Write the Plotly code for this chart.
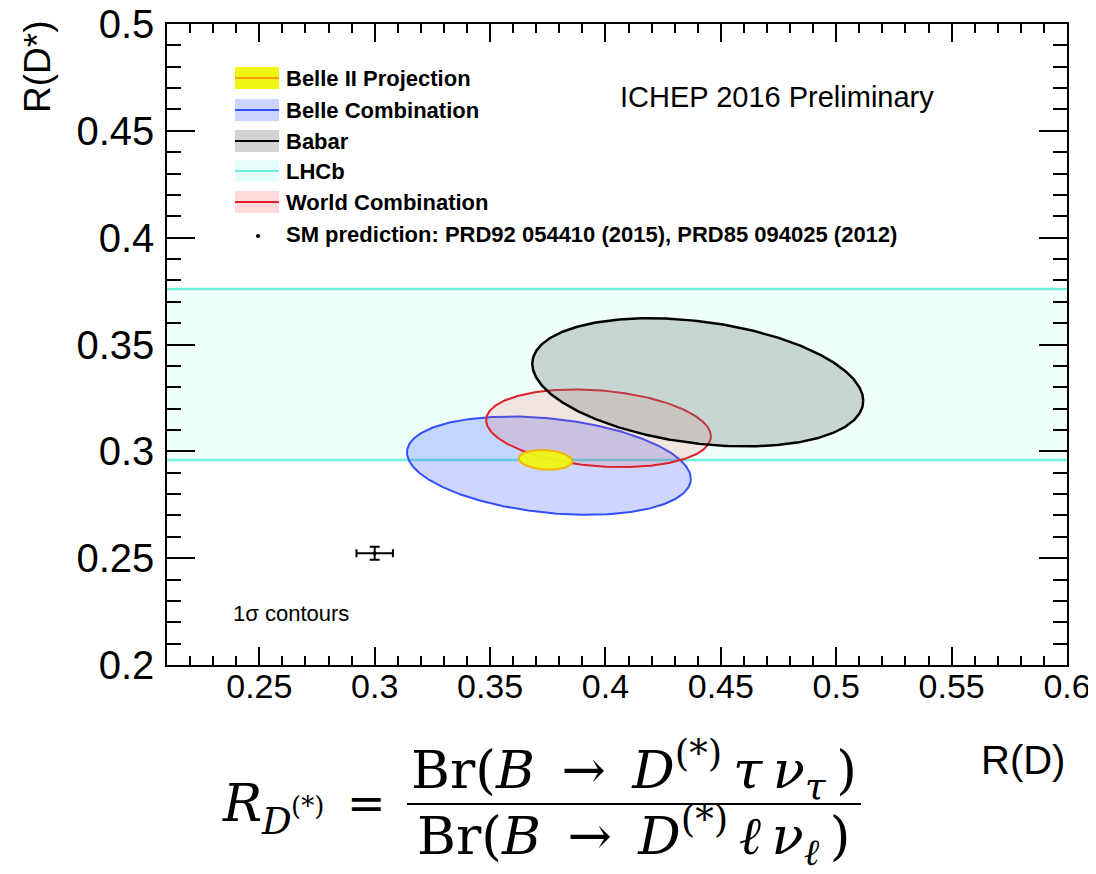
import numpy as np
import plotly.graph_objects as go

# ---------------- data ----------------
experiments = ["Belle Combination", "World Combination", "Babar", "Belle II Projection"]
rd_center = [0.3755, 0.397, 0.440, 0.374]
rd_sigma = [0.0615, 0.0487, 0.0717, 0.0116]
rds_center = [0.2933, 0.3108, 0.3323, 0.2960]
rds_sigma = [0.0230, 0.0182, 0.0300, 0.0046]
rho = [-0.27, -0.21, -0.29, -0.15]

lhcb_rds_center = 0.336
lhcb_rds_sigma = 0.040

sm_rd = [0.300]
sm_rd_err = [0.0079]
sm_rds = [0.2523]
sm_rds_err = [0.0030]

x_tickvals = [0.25, 0.3, 0.35, 0.4, 0.45, 0.5, 0.55, 0.6]
x_ticktext = ["0.25", "0.3", "0.35", "0.4", "0.45", "0.5", "0.55", "0.6"]
y_tickvals = [0.2, 0.25, 0.3, 0.35, 0.4, 0.45, 0.5]
y_ticktext = ["0.2", "0.25", "0.3", "0.35", "0.4", "0.45", "0.5"]

legend_labels = ["Belle II Projection", "Belle Combination", "Babar", "LHCb",
                 "World Combination", "SM prediction: PRD92 054410 (2015), PRD85 094025 (2012)"]

# ---------------- styles ----------------
fill_colors = {
    "Belle Combination": "rgba(51,85,255,0.24)",
    "World Combination": "rgba(255,70,60,0.14)",
    "Babar": "rgba(110,120,120,0.30)",
    "Belle II Projection": "rgba(238,246,18,0.95)",
}
line_colors = {
    "Belle Combination": "#3050ff",
    "World Combination": "#e0202a",
    "Babar": "#000000",
    "Belle II Projection": "#f5b400",
}
line_widths = {
    "Belle Combination": 2,
    "World Combination": 2,
    "Babar": 2.5,
    "Belle II Projection": 2,
}
LHCB_FILL = "#effffb"
LHCB_LINE = "#6ff0da"
SANS = "Liberation Sans"
SERIF = "DejaVu Serif"

# page has an 8px body margin; figure sized to fill the 1096x874 window
OFF = 8
W, H = 1096 - OFF, 874 - OFF
ML, MR, MT, MB = 167 - OFF, 29, 24 - OFF, 209
PW = W - ML - MR
PH = H - MT - MB


def px(xp):
    return (xp - OFF - ML) / PW


def py(yp):
    return (H - MB - (yp - OFF)) / PH


fig = go.Figure()

# ---- ellipses (1 sigma, delta chi2 = 1) ----
t = np.linspace(0, 2 * np.pi, 400)
for name, mx, sx, my, sy, r in zip(experiments, rd_center, rd_sigma, rds_center, rds_sigma, rho):
    ex = mx + sx * np.cos(t)
    ey = my + sy * (r * np.cos(t) + np.sqrt(1 - r * r) * np.sin(t))
    fig.add_trace(go.Scatter(
        x=ex, y=ey, mode="lines", fill="toself",
        fillcolor=fill_colors[name],
        line=dict(color=line_colors[name], width=line_widths[name]),
        name=name, showlegend=False, hoverinfo="name",
    ))

# ---- SM prediction ----
fig.add_trace(go.Scatter(
    x=sm_rd, y=sm_rds, mode="markers",
    marker=dict(color="black", size=4),
    error_x=dict(type="data", array=sm_rd_err, color="black", thickness=2, width=4),
    error_y=dict(type="data", array=sm_rds_err, color="black", thickness=2, width=5),
    showlegend=False, name="SM prediction",
))

shapes = []
# LHCb band
shapes.append(dict(type="rect", xref="x domain", yref="y", x0=0, x1=1,
                   y0=lhcb_rds_center - lhcb_rds_sigma, y1=lhcb_rds_center + lhcb_rds_sigma,
                   fillcolor=LHCB_FILL, line=dict(width=0), layer="below"))
for yv in (lhcb_rds_center - lhcb_rds_sigma, lhcb_rds_center + lhcb_rds_sigma):
    shapes.append(dict(type="line", xref="x domain", yref="y", x0=0, x1=1, y0=yv, y1=yv,
                       line=dict(color=LHCB_LINE, width=2.5), layer="below"))

# ---- manual ROOT-style legend ----
annotations = []
leg_rows = [78, 110, 141, 171, 202, 234]
sw_x0, sw_x1 = 235, 279
sw_h = 22
leg_fill = ["rgba(240,245,20,1)", "rgba(204,212,255,1)", "rgba(211,211,211,1)",
            "rgba(230,255,250,1)", "rgba(255,218,218,1)"]
leg_line = ["#f5a000", "#3050ff", "#000000", "#6ff0da", "#e0202a"]
for i, yc in enumerate(leg_rows[:5]):
    shapes.append(dict(type="rect", xref="paper", yref="paper",
                       x0=px(sw_x0), x1=px(sw_x1), y0=py(yc + sw_h / 2), y1=py(yc - sw_h / 2),
                       fillcolor=leg_fill[i], line=dict(width=0), layer="above"))
    shapes.append(dict(type="line", xref="paper", yref="paper",
                       x0=px(sw_x0), x1=px(sw_x1), y0=py(yc), y1=py(yc),
                       line=dict(color=leg_line[i], width=2), layer="above"))
shapes.append(dict(type="circle", xref="paper", yref="paper",
                   x0=px(256), x1=px(260), y0=py(238), y1=py(234),
                   fillcolor="black", line=dict(width=0), layer="above"))
for i, yc in enumerate(leg_rows):
    annotations.append(dict(xref="paper", yref="paper", x=px(284), y=py(yc),
                            xanchor="left", yanchor="middle", showarrow=False,
                            text="<b>" + legend_labels[i] + "</b>",
                            font=dict(family=SANS, size=22, color="black")))

annotations.append(dict(xref="paper", yref="paper", x=px(618), y=py(97),
                        xanchor="left", yanchor="middle", showarrow=False,
                        text="ICHEP 2016 Preliminary",
                        font=dict(family=SANS, size=29, color="black")))
annotations.append(dict(xref="paper", yref="paper", x=px(231), y=py(613),
                        xanchor="left", yanchor="middle", showarrow=False,
                        text="1σ contours",
                        font=dict(family=SANS, size=22, color="black")))
# axis titles
annotations.append(dict(xref="paper", yref="paper", x=px(38), y=py(19),
                        xanchor="center", yanchor="top", showarrow=False, textangle=-90,
                        text="R(D*)",
                        font=dict(family=SANS, size=37, color="black")))
annotations.append(dict(xref="paper", yref="paper", x=px(1023), y=py(760),
                        xanchor="center", yanchor="middle", showarrow=False,
                        text="R(D)",
                        font=dict(family=SANS, size=40, color="black")))

# ---- formula ----
annotations.append(dict(xref="paper", yref="paper", x=px(220), y=py(803),
                        xanchor="left", yanchor="middle", showarrow=False,
                        text="<i>R</i>",
                        font=dict(family=SERIF, size=52, color="black")))
annotations.append(dict(xref="paper", yref="paper", x=px(259), y=py(821),
                        xanchor="left", yanchor="middle", showarrow=False,
                        text="<i>D</i>",
                        font=dict(family=SERIF, size=37, color="black")))
annotations.append(dict(xref="paper", yref="paper", x=px(289), y=py(806),
                        xanchor="left", yanchor="middle", showarrow=False,
                        text="(*)",
                        font=dict(family=SERIF, size=26, color="black")))
annotations.append(dict(xref="paper", yref="paper", x=px(345), y=py(803),
                        xanchor="left", yanchor="middle", showarrow=False,
                        text="=",
                        font=dict(family=SERIF, size=46, color="black")))
annotations.append(dict(xref="paper", yref="paper", x=px(634), y=py(770),
                        xanchor="center", yanchor="middle", showarrow=False,
                        text="Br(<i>B</i>\u2002→\u2002<i>D</i><sup>(*)</sup>\u2009<i>τ</i>\u2009<i>ν</i><sub><i>τ</i></sub>\u2009)",
                        font=dict(family=SERIF, size=53, color="black")))
annotations.append(dict(xref="paper", yref="paper", x=px(634), y=py(836),
                        xanchor="center", yanchor="middle", showarrow=False,
                        text="Br(<i>B</i>\u2002→\u2002<i>D</i><sup>(*)</sup>\u2009<i>ℓ</i>\u2009<i>ν</i><sub><i>ℓ</i></sub>\u2009)",
                        font=dict(family=SERIF, size=53, color="black")))
shapes.append(dict(type="line", xref="paper", yref="paper",
                   x0=px(407), x1=px(861), y0=py(804), y1=py(804),
                   line=dict(color="black", width=2)))

fig.update_layout(
    width=W, height=H,
    margin=dict(l=ML, r=MR, t=MT, b=MB, autoexpand=False),
    paper_bgcolor="white", plot_bgcolor="white",
    shapes=shapes, annotations=annotations,
    showlegend=False,
    xaxis=dict(
        range=[0.21, 0.6], tickvals=x_tickvals, ticktext=x_ticktext,
        automargin=False, ticklabeloverflow="allow",
        ticks="inside", ticklen=18, tickwidth=1.5, tickcolor="black",
        showline=True, linecolor="black", linewidth=1.5, mirror="ticks",
        showgrid=False, zeroline=False,
        minor=dict(ticks="inside", ticklen=9, tickwidth=1.5, tickcolor="black",
                   tick0=0.2, dtick=0.01, showgrid=False),
        tickfont=dict(family=SANS, size=34, color="black"),
        ticklabelstandoff=-10,
    ),
    yaxis=dict(
        range=[0.2, 0.5], tickvals=y_tickvals, ticktext=y_ticktext,
        automargin=False, ticklabeloverflow="allow",
        ticks="inside", ticklen=28, tickwidth=1.5, tickcolor="black",
        showline=True, linecolor="black", linewidth=1.5, mirror="ticks",
        showgrid=False, zeroline=False,
        minor=dict(ticks="inside", ticklen=14, tickwidth=1.5, tickcolor="black",
                   tick0=0.2, dtick=0.01, showgrid=False),
        tickfont=dict(family=SANS, size=40, color="black"),
        ticklabelstandoff=3,
    ),
)

fig.write_html("out.html")
